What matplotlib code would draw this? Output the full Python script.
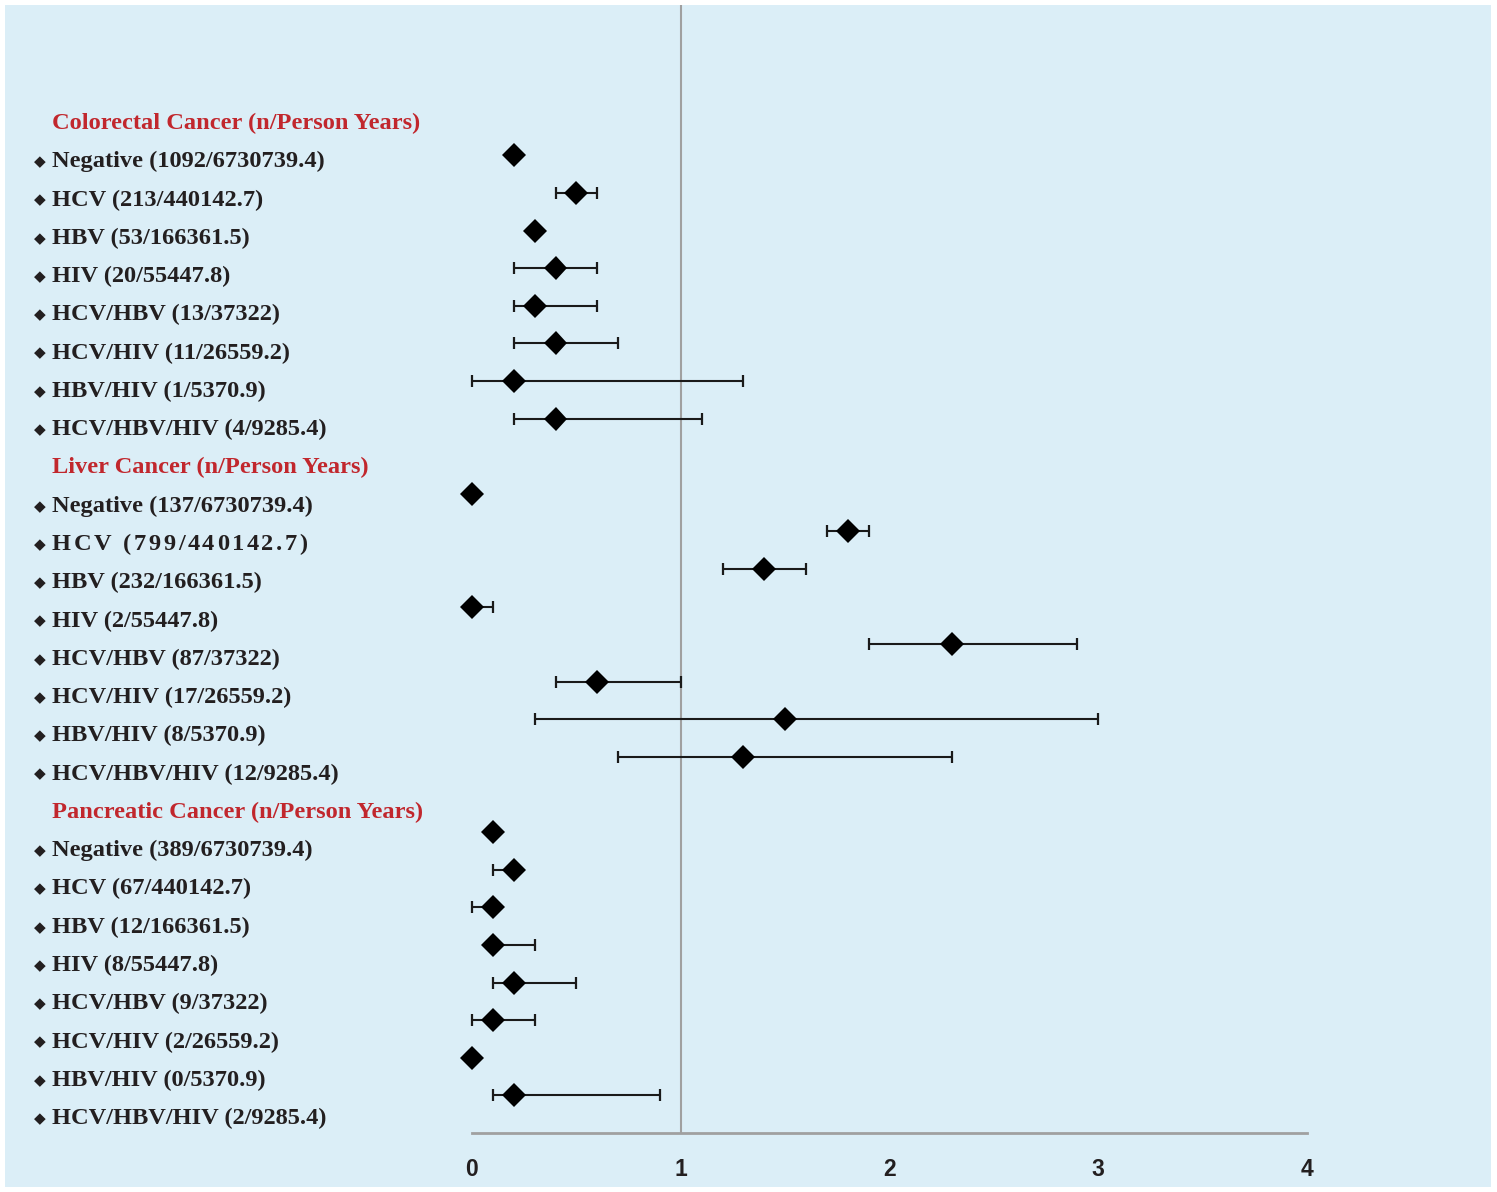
import matplotlib
matplotlib.use("Agg")
import matplotlib.pyplot as plt
import matplotlib.patches as mpatches
import matplotlib.patheffects as pe
import numpy as np

# ---------------- data ----------------
groups = ["Colorectal Cancer (n/Person Years)",
          "Liver Cancer (n/Person Years)",
          "Pancreatic Cancer (n/Person Years)"]

colorectal_labels = ["Negative (1092/6730739.4)", "HCV (213/440142.7)", "HBV (53/166361.5)",
                     "HIV (20/55447.8)", "HCV/HBV (13/37322)", "HCV/HIV (11/26559.2)",
                     "HBV/HIV (1/5370.9)", "HCV/HBV/HIV (4/9285.4)"]
colorectal_est = [0.2, 0.5, 0.3, 0.4, 0.3, 0.4, 0.2, 0.4]
colorectal_lo = [0.2, 0.4, 0.3, 0.2, 0.2, 0.2, 0.0, 0.2]
colorectal_hi = [0.2, 0.6, 0.3, 0.6, 0.6, 0.7, 1.3, 1.1]

liver_labels = ["Negative (137/6730739.4)", "HCV (799/440142.7)", "HBV (232/166361.5)",
                "HIV (2/55447.8)", "HCV/HBV (87/37322)", "HCV/HIV (17/26559.2)",
                "HBV/HIV (8/5370.9)", "HCV/HBV/HIV (12/9285.4)"]
liver_est = [0.0, 1.8, 1.4, 0.0, 2.3, 0.6, 1.5, 1.3]
liver_lo = [0.0, 1.7, 1.2, 0.0, 1.9, 0.4, 0.3, 0.7]
liver_hi = [0.0, 1.9, 1.6, 0.1, 2.9, 1.0, 3.0, 2.3]

pancreatic_labels = ["Negative (389/6730739.4)", "HCV (67/440142.7)", "HBV (12/166361.5)",
                     "HIV (8/55447.8)", "HCV/HBV (9/37322)", "HCV/HIV (2/26559.2)",
                     "HBV/HIV (0/5370.9)", "HCV/HBV/HIV (2/9285.4)"]
pancreatic_est = [0.1, 0.2, 0.1, 0.1, 0.2, 0.1, 0.0, 0.2]
pancreatic_lo = [0.1, 0.1, 0.0, 0.1, 0.1, 0.0, 0.0, 0.1]
pancreatic_hi = [0.1, 0.2, 0.1, 0.3, 0.5, 0.3, 0.0, 0.9]

xticks = [0, 1, 2, 3, 4]

# ---------------- figure ----------------
W, H = 1497, 1192
fig = plt.figure(figsize=(W / 100, H / 100), dpi=100)
fig.patch.set_facecolor("white")
bg = "#dbeef7"
fig.patches.append(mpatches.Rectangle((5 / W, 5 / H), (1491 - 5) / W, (1187 - 5) / H,
                                      transform=fig.transFigure, facecolor=bg,
                                      edgecolor="none", zorder=-10))

ax = fig.add_axes([472 / W, (H - 1133) / H, (1307 - 472) / W, (1133 - 5) / H])
ax.set_facecolor("none")
renderer = fig.canvas.get_renderer()

all_sets = [(colorectal_labels, colorectal_est, colorectal_lo, colorectal_hi),
            (liver_labels, liver_est, liver_lo, liver_hi),
            (pancreatic_labels, pancreatic_est, pancreatic_lo, pancreatic_hi)]

shadow = [pe.SimpleLineShadow(offset=(0, -2.5), shadow_color="#000000", alpha=0.25), pe.Normal()]
txt_col = "#231f20"
FS = 17.6
FONT = "Liberation Serif"
Y0, DY = 123.5, 38.27


def advance(ch):
    """Approximate advance width (px) of a character in the label font."""
    a = fig.text(0, 0, "x" + ch + "x", family=FONT, weight="bold", fontsize=FS)
    b = fig.text(0, 0, "xx", family=FONT, weight="bold", fontsize=FS)
    w = a.get_window_extent(renderer).width - b.get_window_extent(renderer).width
    a.remove(); b.remove()
    return w


slot = 0
for gi, (labs, est, lo, hi) in enumerate(all_sets):
    y_px = Y0 + slot * DY
    fig.text(52 / W, 1 - y_px / H, groups[gi], family=FONT, weight="bold",
             fontsize=FS, color="#c1272d", va="center", ha="left")
    slot += 1
    ys = np.arange(slot, slot + len(labs))
    est = np.array(est); lo = np.array(lo); hi = np.array(hi)
    ax.errorbar(est, ys, xerr=[est - lo, hi - est], fmt="none", ecolor="#1a1a1a",
                elinewidth=1.5, capsize=4.3, capthick=1.6, zorder=2, clip_on=False)
    ax.plot(est, ys, linestyle="none", marker="D", markersize=12.2, color="black",
            markeredgewidth=0, zorder=3, path_effects=shadow, clip_on=False)
    for i, lab in enumerate(labs):
        y_px = Y0 + (slot + i) * DY
        fy = 1 - y_px / H
        fig.text(40 / W, fy, "\u25c6", family="DejaVu Sans", fontsize=11, color=txt_col,
                 va="center", ha="center")
        if gi == 1 and lab.startswith("HCV ("):
            # letter-spaced label as in the original
            x_px = 52.0
            for ch in lab:
                if ch != " ":
                    fig.text(x_px / W, fy, ch, family=FONT, weight="bold",
                             fontsize=FS, color=txt_col, va="center", ha="left")
                x_px += advance(ch) + 2.6
        else:
            fig.text(52 / W, fy, lab, family=FONT, weight="bold",
                     fontsize=FS, color=txt_col, va="center", ha="left")
    slot += len(labs)

ax.set_xlim(0, 4)
ax.set_ylim(27.0, -3.0)
ax.axvline(1, color="#a0a0a0", lw=1.5, zorder=1)
for s in ["top", "right", "left"]:
    ax.spines[s].set_visible(False)
ax.spines["bottom"].set_color("#a0a0a0")
ax.spines["bottom"].set_linewidth(2)
ax.set_yticks([])
ax.set_xticks(xticks)
ax.set_xticklabels([str(t) for t in xticks], family="Liberation Sans",
                   weight="bold", fontsize=16.5, color=txt_col)
ax.tick_params(axis="x", length=0, pad=18)

fig.savefig("out.png", dpi=100, facecolor="white")
